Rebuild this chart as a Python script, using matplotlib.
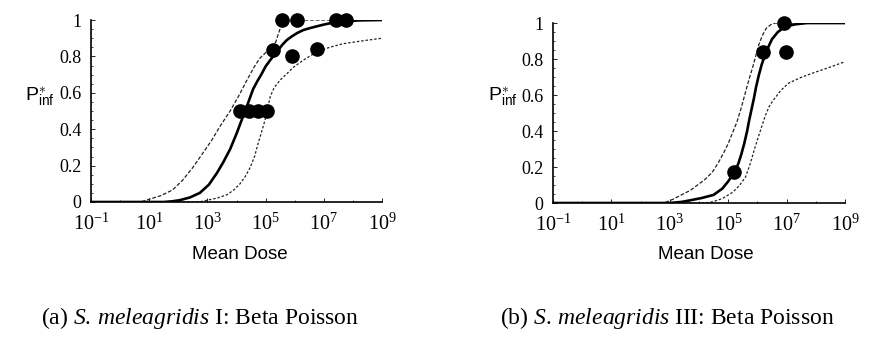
import numpy as np
import matplotlib
matplotlib.use("Agg")
import matplotlib.pyplot as plt
from matplotlib.ticker import FixedLocator, MultipleLocator, NullFormatter

plt.rcParams['font.family'] = ['Liberation Serif', 'DejaVu Serif']
plt.rcParams['mathtext.fontset'] = 'custom'
plt.rcParams['mathtext.rm'] = 'Liberation Serif'
plt.rcParams['mathtext.it'] = 'Liberation Serif:italic'
plt.rcParams['mathtext.sf'] = 'Liberation Sans'

# ---- panel (a): S. meleagridis I (log10 of mean dose, fraction infected)
a_pts_logdose = [5.58, 6.07, 7.41, 7.76, 5.26, 5.90, 6.78, 4.11, 4.42, 4.73, 5.06]
a_pts_p = [1.0, 1.0, 1.0, 1.0, 0.835, 0.80, 0.84, 0.5, 0.5, 0.5, 0.5]

a_fit_logdose = [-1, 1.5, 1.8, 2.05, 2.4, 2.74, 3.05, 3.33, 3.55, 3.78, 4.0, 4.2, 4.4, 4.57,
                 4.72, 4.85, 5.0, 5.16, 5.3, 5.43, 5.58, 5.73, 5.9, 6.1, 6.3, 6.53, 7.0, 7.45, 8.2, 9]
a_fit_p = [0, 0, 0.004, 0.01, 0.025, 0.05, 0.095, 0.16, 0.22, 0.29, 0.375, 0.46, 0.545, 0.62,
           0.665, 0.70, 0.745, 0.78, 0.81, 0.835, 0.865, 0.89, 0.91, 0.93, 0.945, 0.956, 0.975, 0.99, 0.998, 1.0]

a_up_logdose = [-1, 0.7, 1.0, 1.4, 1.8, 2.15, 2.5, 2.85, 3.15, 3.45, 3.78, 4.1, 4.36, 4.6,
                4.8, 5.0, 5.2, 5.35, 5.45, 5.55, 5.65, 9]
a_up_p = [0, 0, 0.015, 0.035, 0.066, 0.12, 0.19, 0.27, 0.34, 0.42, 0.5, 0.59, 0.67, 0.74,
          0.79, 0.82, 0.84, 0.88, 0.93, 0.975, 1.0, 1.0]

a_lo_logdose = [-1, 2.7, 3.0, 3.35, 3.67, 3.9, 4.12, 4.3, 4.47, 4.62, 4.74, 4.87, 4.98, 5.08,
                5.16, 5.3, 5.5, 5.7, 5.95, 6.3, 6.77, 7.2, 7.67, 8.3, 9]
a_lo_p = [0, 0, 0.01, 0.022, 0.04, 0.065, 0.10, 0.14, 0.19, 0.25, 0.32, 0.39, 0.45, 0.52,
          0.58, 0.63, 0.67, 0.70, 0.74, 0.78, 0.826, 0.85, 0.87, 0.885, 0.90]

# ---- panel (b): S. meleagridis III
b_pts_logdose = [6.9, 6.2, 6.97, 5.21]
b_pts_p = [1.0, 0.84, 0.84, 0.17]

b_fit_logdose = [-1, 3.0, 3.4, 3.7, 4.1, 4.5, 4.8, 5.0, 5.15, 5.25, 5.35, 5.45, 5.55, 5.65,
                 5.72, 5.8, 5.88, 5.95, 6.05, 6.15, 6.3, 6.5, 6.7, 6.95, 7.3, 7.7, 9]
b_fit_p = [0, 0, 0.006, 0.015, 0.028, 0.045, 0.08, 0.12, 0.155, 0.18, 0.22, 0.27, 0.33, 0.40,
           0.46, 0.52, 0.58, 0.64, 0.71, 0.77, 0.84, 0.91, 0.95, 0.98, 0.993, 1.0, 1.0]

b_up_logdose = [-1, 2.8, 3.1, 3.4, 3.7, 3.95, 4.2, 4.45, 4.65, 4.85, 5.0, 5.15, 5.3, 5.45,
                5.6, 5.72, 5.85, 5.95, 6.05, 6.17, 6.3, 6.45, 6.6, 9]
b_up_p = [0, 0, 0.02, 0.045, 0.07, 0.1, 0.13, 0.17, 0.22, 0.28, 0.33, 0.39, 0.45, 0.53,
          0.62, 0.69, 0.76, 0.82, 0.88, 0.93, 0.97, 0.99, 1.0, 1.0]

b_lo_logdose = [-1, 4.2, 4.48, 4.8, 5.16, 5.4, 5.6, 5.76, 5.92, 6.1, 6.26, 6.4, 6.54, 6.8,
                7.06, 7.45, 7.86, 8.4, 9]
b_lo_p = [0, 0, 0.007, 0.025, 0.06, 0.1, 0.146, 0.22, 0.31, 0.40, 0.48, 0.535, 0.57, 0.625,
          0.665, 0.695, 0.72, 0.75, 0.785]

xtick_exps = [-1, 1, 3, 5, 7, 9]
ytick_vals = [0, 0.2, 0.4, 0.6, 0.8, 1]
ytick_labels = ['0', '0.2', '0.4', '0.6', '0.8', '1']

fig = plt.figure(figsize=(8.7, 3.37), dpi=100)
ax_a = fig.add_axes([0.1046, 0.4006, 0.3345, 0.540])
ax_b = fig.add_axes([0.6356, 0.3976, 0.3356, 0.534])

panels = [
    (ax_a, a_pts_logdose, a_pts_p, a_fit_logdose, a_fit_p, a_up_logdose, a_up_p, a_lo_logdose, a_lo_p),
    (ax_b, b_pts_logdose, b_pts_p, b_fit_logdose, b_fit_p, b_up_logdose, b_up_p, b_lo_logdose, b_lo_p),
]

for ax, px, py, fx, fy, ux, uy, lx, ly in panels:
    ax.plot(10.0 ** np.array(ux), uy, color='#222222', lw=0.9, ls=(0, (3, 1.5)))
    ax.plot(10.0 ** np.array(lx), ly, color='#222222', lw=0.9, ls=(0, (2, 1.5)))
    ax.plot(10.0 ** np.array(fx), fy, color='black', lw=1.9)
    ax.plot(10.0 ** np.array(px), py, 'o', color='black', ms=9.5, clip_on=False, zorder=5)

    ax.set_xscale('log')
    ax.set_xlim(10.0 ** -1, 10.0 ** 9)
    ax.set_ylim(0, 1)
    for s in ['top', 'right']:
        ax.spines[s].set_visible(False)
    for s in ['left', 'bottom']:
        ax.spines[s].set_linewidth(1.2)
    ax.xaxis.set_major_locator(FixedLocator([10.0 ** e for e in xtick_exps]))
    ax.xaxis.set_minor_locator(FixedLocator([10.0 ** e for e in range(-1, 10)]))
    ax.xaxis.set_minor_formatter(NullFormatter())
    ax.set_xticklabels([r'$10^{%d}$' % e for e in xtick_exps])
    ax.set_yticks(ytick_vals)
    ax.set_yticklabels(ytick_labels)
    ax.yaxis.set_minor_locator(MultipleLocator(0.05))
    ax.tick_params(which='major', direction='in', length=3, width=0.6)
    ax.tick_params(which='minor', direction='in', length=1.5, width=0.5)
    ax.tick_params(axis='x', pad=8, labelsize=14.5)
    ax.tick_params(axis='y', pad=7, labelsize=13)
    ax.patch.set_visible(False)

plabel = r'$\mathsf{P}^{\ast}_{\mathsf{inf}}$'
fig.text(0.046, 0.712, plabel, fontsize=14, ha='center', va='center')
fig.text(0.578, 0.712, plabel, fontsize=14, ha='center', va='center')

fig.text(0.276, 0.246, 'Mean Dose', family='Liberation Sans', fontsize=13.5, ha='center', va='center')
fig.text(0.8115, 0.246, 'Mean Dose', family='Liberation Sans', fontsize=13.5, ha='center', va='center')

fig.text(0.23, 0.056, r'(a) $\mathit{S.\,meleagridis}$ I: Beta Poisson',
         fontsize=17, ha='center', va='center')
fig.text(0.767, 0.056, r'(b) $\mathit{S.\,meleagridis}$ III: Beta Poisson',
         fontsize=17, ha='center', va='center')

fig.savefig('out.png', dpi=100)
